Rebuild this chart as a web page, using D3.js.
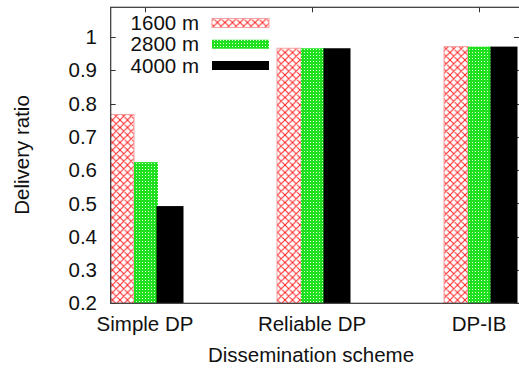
<!DOCTYPE html>
<html>
<head>
<meta charset="utf-8">
<script src="https://cdn.jsdelivr.net/npm/d3@7"></script>
<style>
  html, body { margin: 0; padding: 0; background: #fff; }
  svg { display: block; font-family: 'Liberation Sans', Arial, sans-serif; }
</style>
</head>
<body>
<div id="chart"></div>
<script>
// data
let categories = ['Simple DP', 'Reliable DP', 'DP-IB']
let seriesNames = ['1600 m', '2800 m', '4000 m']
let ratio1600 = [0.767, 0.966, 0.971]
let ratio2800 = [0.624, 0.966, 0.971]
let ratio4000 = [0.492, 0.966, 0.971]
let yTicks = [0.2, 0.3, 0.4, 0.5, 0.6, 0.7, 0.8, 0.9, 1]

let width = 519,
  height = 370,
  plotLeft = 110.7,
  plotRight = 520,
  plotTop = 7.3,
  plotBottom = 303.3,
  fontSize = 20.5

let series = [ratio1600, ratio2800, ratio4000].map((vals, i) => ({
  name: seriesNames[i],
  values: vals
}))

let svg = d3.select('#chart').append('svg')
  .attr('width', width)
  .attr('height', height)

let defs = svg.append('defs')

// red cross hatch
let hatch = defs.append('pattern')
  .attr('id', 'hatch')
  .attr('patternUnits', 'userSpaceOnUse')
  .attr('width', 7.5)
  .attr('height', 7.5)
hatch.append('rect').attr('width', 7.5).attr('height', 7.5).attr('fill', '#fff')
hatch.append('path')
  .attr('d', 'M0,0L7.5,7.5M7.5,0L0,7.5M-1,6.5L1,8.5M6.5,-1L8.5,1M-1,1L1,-1M6.5,8.5L8.5,6.5')
  .attr('stroke', '#f22')
  .attr('stroke-width', 1)

// dense green
let dense = defs.append('pattern')
  .attr('id', 'dense')
  .attr('patternUnits', 'userSpaceOnUse')
  .attr('width', 3)
  .attr('height', 3)
dense.append('rect').attr('width', 3).attr('height', 3).attr('fill', '#1ee01e')
dense.append('rect').attr('x', 1).attr('y', 1).attr('width', 1).attr('height', 1).attr('fill', '#e0ffd8')

defs.append('clipPath').attr('id', 'plot-clip')
  .append('rect')
  .attr('x', plotLeft).attr('y', plotTop)
  .attr('width', plotRight - plotLeft).attr('height', plotBottom - plotTop)

let fills = ['url(#hatch)', 'url(#dense)', '#000']
let strokes = ['#f4a0a0', 'none', 'none']
let grow = [0, 0, 1.5]

let x = d3.scalePoint()
  .domain(categories)
  .range([145, 479])

let x1 = d3.scaleBand()
  .domain(seriesNames)
  .range([-35, 37])

let y = d3.scaleLinear()
  .domain([0.2, 1.089])
  .range([plotBottom, plotTop])

// ticks (inward, mirrored)
let tickG = svg.append('g').attr('stroke', '#333').attr('stroke-width', 1)
yTicks.forEach(t => {
  let yy = Math.round(y(t)) + 0.5
  tickG.append('line').attr('x1', plotLeft).attr('x2', plotLeft + 5).attr('y1', yy).attr('y2', yy)
  tickG.append('line').attr('x1', plotRight).attr('x2', plotRight - 6).attr('y1', yy).attr('y2', yy)
})
categories.forEach(c => {
  let xx = Math.round(x(c)) + 0.5
  tickG.append('line').attr('x1', xx).attr('x2', xx).attr('y1', plotTop).attr('y2', plotTop + 5)
  tickG.append('line').attr('x1', xx).attr('x2', xx).attr('y1', plotBottom).attr('y2', plotBottom - 5)
})

// bars
let bars = svg.append('g').attr('clip-path', 'url(#plot-clip)')
series.forEach((s, i) => {
  bars.selectAll('.bar' + i)
    .data(s.values)
    .enter().append('rect')
    .attr('class', 'bar' + i)
    .attr('x', (d, j) => x(categories[j]) + x1(s.name) - grow[i])
    .attr('y', d => y(d))
    .attr('width', x1.bandwidth() + 2 * grow[i])
    .attr('height', d => plotBottom - y(d))
    .attr('fill', fills[i])
    .attr('stroke', strokes[i])
    .attr('stroke-width', 1)
})

// frame
svg.append('rect')
  .attr('x', plotLeft).attr('y', plotTop)
  .attr('width', plotRight - plotLeft).attr('height', plotBottom - plotTop)
  .attr('fill', 'none')
  .attr('stroke', '#333')
  .attr('stroke-width', 1.2)

// tick labels
svg.append('g').selectAll('text')
  .data(yTicks)
  .enter().append('text')
  .attr('x', 97)
  .attr('y', d => y(d))
  .attr('dy', '0.35em')
  .attr('text-anchor', 'end')
  .attr('font-size', fontSize)
  .attr('fill', '#111')
  .text(d => d3.format('~g')(d))

svg.append('g').selectAll('text')
  .data(categories)
  .enter().append('text')
  .attr('x', d => x(d))
  .attr('y', 331)
  .attr('text-anchor', 'middle')
  .attr('font-size', fontSize)
  .attr('fill', '#111')
  .text(d => d)

// axis titles
svg.append('text')
  .attr('x', 311)
  .attr('y', 362)
  .attr('text-anchor', 'middle')
  .attr('font-size', fontSize)
  .attr('fill', '#111')
  .text('Dissemination scheme')

svg.append('text')
  .attr('transform', 'translate(29,155) rotate(-90)')
  .attr('text-anchor', 'middle')
  .attr('font-size', fontSize)
  .attr('fill', '#111')
  .text('Delivery ratio')

// legend
let legend = svg.append('g')
let legendY = d3.scalePoint().domain(seriesNames).range([23, 65.5])
series.forEach((s, i) => {
  let cy = legendY(s.name)
  legend.append('text')
    .attr('x', 199)
    .attr('y', cy)
    .attr('dy', '0.35em')
    .attr('text-anchor', 'end')
    .attr('font-size', fontSize)
    .attr('fill', '#111')
    .text(s.name)
  legend.append('rect')
    .attr('x', 212)
    .attr('y', cy - 4.5)
    .attr('width', 57)
    .attr('height', 9)
    .attr('fill', fills[i])
    .attr('stroke', i === 0 ? strokes[0] : 'none')
})
</script>
</body>
</html>
